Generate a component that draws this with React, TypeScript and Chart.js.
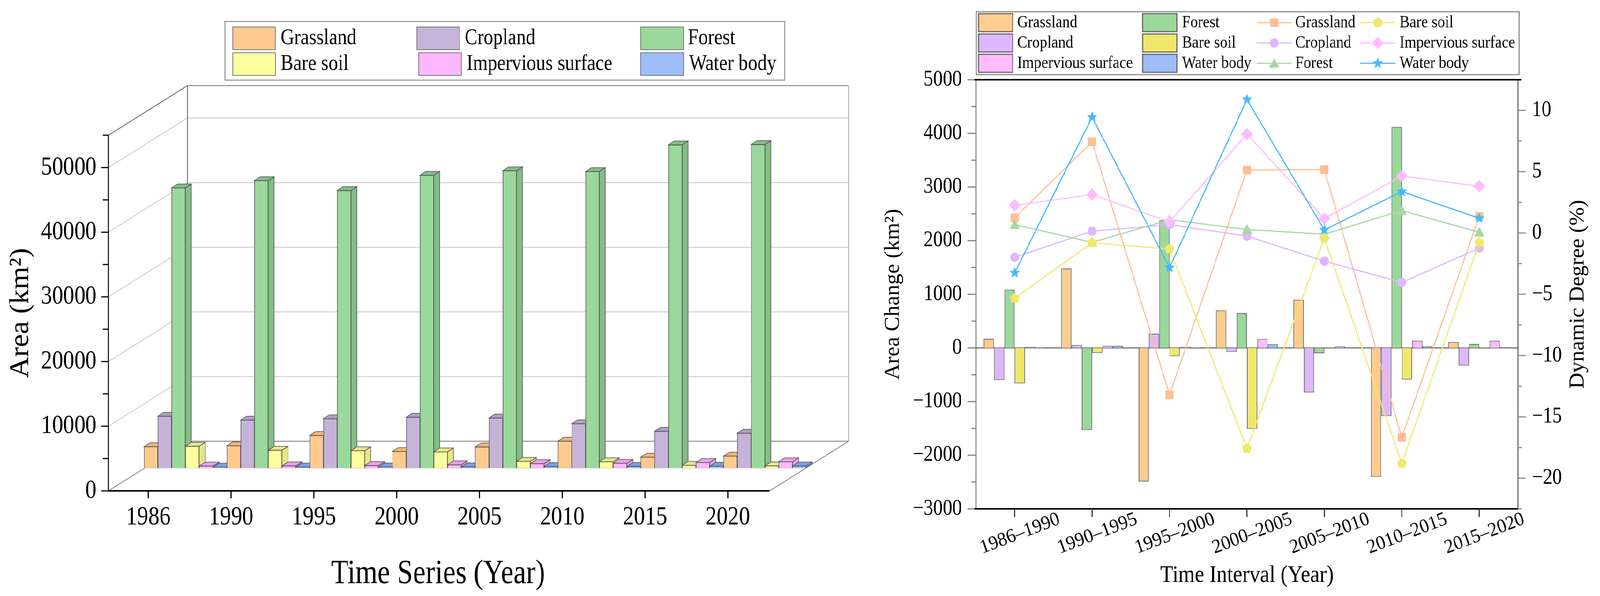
import React, { useEffect, useRef } from "react";
import { Chart, registerables } from "chart.js";

Chart.register(...registerables);

const FONT = "'Liberation Serif', 'Times New Roman', serif";

// ---------- left chart data ----------
const years = ["1986", "1990", "1995", "2000", "2005", "2010", "2015", "2020"];
const areaTicks = [0, 10000, 20000, 30000, 40000, 50000];
const areaGrassland = [3270, 3420, 5000, 2530, 3235, 4120, 1650, 1820];
const areaCropland = [7980, 7380, 7590, 7820, 7700, 6820, 5650, 5350];
const areaForest = [43294, 44412, 42880, 45235, 45940, 45820, 49940, 50000];
const areaBareSoil = [3340, 2720, 2650, 2470, 1000, 940, 400, 300];
const areaImpervious = [270, 300, 350, 470, 650, 700, 820, 940];
const areaWater = [100, 120, 130, 150, 200, 220, 260, 280];

// ---------- right chart data ----------
const intervals = ["1986–1990", "1990–1995", "1995–2000", "2000–2005", "2005–2010", "2010–2015", "2015–2020"];
const degreeTicks = [-20, -15, -10, -5, 0, 5, 10];
const changeGrassland = [170, 1480, -2490, 700, 900, -2400, 110];
const changeCropland = [-600, 55, 265, -75, -830, -1270, -330];
const changeForest = [1085, -1530, 2380, 650, -100, 4120, 75];
const changeBareSoil = [-660, -95, -155, -1510, -15, -590, -15];
const changeImpervious = [20, 40, 20, 165, 30, 135, 135];
const changeWater = [-10, 40, -15, 70, 5, 30, 15];

const degreeGrassland = [1.24, 7.44, -13.2, 5.14, 5.17, -16.67, 1.35];
const degreeCropland = [-1.98, 0.15, 0.68, -0.25, -2.3, -4.03, -1.24];
const degreeForest = [0.68, -0.77, 1.08, 0.28, -0.1, 1.83, 0.06];
const degreeBareSoil = [-5.33, -0.8, -1.3, -17.57, -0.43, -18.8, -0.8];
const degreeImpervious = [2.26, 3.13, 0.9, 8.06, 1.18, 4.65, 3.81];
const degreeWater = [-3.25, 9.45, -2.82, 10.88, 0.25, 3.38, 1.2];

// ---------- names and colours ----------
const leftNames = ["Grassland", "Cropland", "Forest", "Bare soil", "Impervious surface", "Water body"];
const leftFront = ["#FFCA8E", "#C6B3D9", "#9BD89B", "#FFFFA0", "#FFB8FF", "#9DBDF8"];
const leftDepth = ["#F0B47A", "#B09FC4", "#84BC88", "#E6E688", "#EE9EEE", "#7BA0E0"];
const rightBarColors = ["#FFCC8F", "#DDB8FF", "#9BD89B", "#F0E86C", "#FFBBFF", "#9DBDF8"];
const rightLineColors = ["#FFBE94", "#DDB8FF", "#A5D9A5", "#F0E86C", "#FFBBFF", "#45B9FF"];

const FULL_W = 4310;
const LEFT_W = 2340;
const RIGHT_W = 1970;
const H = 1525;

function compressText(canvas: HTMLCanvasElement, factor: number) {
  const ctx: any = canvas.getContext("2d");
  const orig = ctx.fillText.bind(ctx);
  ctx.fillText = (t: string, x: number, y: number, mw?: number) => {
    const m = ctx.getTransform();
    if (Math.abs(m.b) > 1e-6) {
      orig(t, x, y);
    } else {
      const w = ctx.measureText(t).width * factor;
      orig(t, x, y, mw ? Math.min(w, mw) : w);
    }
  };
}

function line(ctx: CanvasRenderingContext2D, x1: number, y1: number, x2: number, y2: number, color: string, width: number) {
  ctx.beginPath();
  ctx.moveTo(x1, y1);
  ctx.lineTo(x2, y2);
  ctx.strokeStyle = color;
  ctx.lineWidth = width;
  ctx.stroke();
}

function poly(ctx: CanvasRenderingContext2D, pts: number[][], fill: string, stroke: string, width: number) {
  ctx.beginPath();
  pts.forEach((p, i) => (i ? ctx.lineTo(p[0], p[1]) : ctx.moveTo(p[0], p[1])));
  ctx.closePath();
  ctx.fillStyle = fill;
  ctx.fill();
  if (width > 0) {
    ctx.strokeStyle = stroke;
    ctx.lineWidth = width;
    ctx.stroke();
  }
}

// ---------- pseudo 3D plugin for the left chart ----------
const AXIS_X = 292;
const AXIS_END = 2073;
const WALL = { dx: 213, dy: -127 };
const PLANE = { dx: 100, dy: -59 };
const DEPTH = { dx: 16, dy: -10 };

const threeD = {
  id: "threeD",
  beforeDatasetDraw() {
    return false;
  },
  beforeDatasetsDraw(chart: any) {
    const ctx: CanvasRenderingContext2D = chart.ctx;
    const y = chart.scales.y;
    const y0 = y.getPixelForValue(0);
    const yTop = y.getPixelForValue(55000);
    ctx.save();
    for (let v = 10000; v <= 50000; v += 10000) {
      const py = y.getPixelForValue(v);
      line(ctx, AXIS_X, py, AXIS_X + WALL.dx, py + WALL.dy, "#c9c9c9", 2);
      line(ctx, AXIS_X + WALL.dx, py + WALL.dy, AXIS_END + WALL.dx, py + WALL.dy, "#cfcfcf", 2.5);
    }
    line(ctx, AXIS_X + WALL.dx, y0 + WALL.dy, AXIS_END + WALL.dx, y0 + WALL.dy, "#8c8c8c", 2.5);
    line(ctx, AXIS_X + WALL.dx, yTop + WALL.dy, AXIS_END + WALL.dx, yTop + WALL.dy, "#8c8c8c", 2.5);
    line(ctx, AXIS_X + WALL.dx, yTop + WALL.dy, AXIS_X + WALL.dx, y0 + WALL.dy, "#777", 2.5);
    line(ctx, AXIS_END + WALL.dx, yTop + WALL.dy, AXIS_END + WALL.dx, y0 + WALL.dy, "#8c8c8c", 2.5);
    line(ctx, AXIS_X, yTop, AXIS_X + WALL.dx, yTop + WALL.dy, "#555", 2);
    line(ctx, AXIS_X, y0, AXIS_X + WALL.dx, y0 + WALL.dy, "#777", 2);
    line(ctx, AXIS_END, y0, AXIS_END + WALL.dx, y0 + WALL.dy, "#777", 2);
    line(ctx, AXIS_X + PLANE.dx - 4, y0 + PLANE.dy, AXIS_END + PLANE.dx, y0 + PLANE.dy, "#c4c4c4", 2.5);
    line(ctx, AXIS_X, yTop, AXIS_X, y0 + 1, "#000", 3.5);
    line(ctx, AXIS_X - 2, y0, AXIS_END, y0, "#000", 4);
    for (let v = 0; v <= 55000; v += 5000) {
      const py = y.getPixelForValue(v);
      line(ctx, AXIS_X - (v % 10000 === 0 ? 19 : 15), py, AXIS_X, py, "#000", 3);
    }
    chart.scales.x.ticks.forEach((_t: any, i: number) => {
      const px = chart.scales.x.getPixelForTick(i);
      line(ctx, px, y0, px, y0 + 19, "#000", 3);
    });
    ctx.restore();
  },
  afterDatasetsDraw(chart: any) {
    const ctx: CanvasRenderingContext2D = chart.ctx;
    const n = chart.data.labels.length;
    const m = chart.data.datasets.length;
    ctx.save();
    ctx.translate(PLANE.dx, PLANE.dy);
    for (let c = 0; c < n; c++) {
      for (let d = 0; d < m; d++) {
        const bar: any = chart.getDatasetMeta(d).data[c];
        const l = bar.x - bar.width / 2;
        const r = bar.x + bar.width / 2;
        const stroke = "#4e4e4e";
        poly(ctx, [[r, bar.y], [r + DEPTH.dx, bar.y + DEPTH.dy], [r + DEPTH.dx, bar.base + DEPTH.dy], [r, bar.base]], leftDepth[d], stroke, 1.5);
        poly(ctx, [[l, bar.y], [l + DEPTH.dx, bar.y + DEPTH.dy], [r + DEPTH.dx, bar.y + DEPTH.dy], [r, bar.y]], leftDepth[d], stroke, 1.5);
        bar.draw(ctx);
      }
    }
    ctx.restore();
    // legend
    ctx.save();
    poly(ctx, [[606, 55], [2114, 55], [2114, 205], [606, 205]], "#fff", "#777", 2);
    const cols = [
      [627, 756, 0],
      [1123, 1252, 1],
      [1726, 1853, 2],
      [627, 756, 3],
      [1128, 1257, 4],
      [1726, 1856, 5],
    ];
    ctx.font = `58px ${FONT}`;
    ctx.textBaseline = "middle";
    ctx.textAlign = "left";
    cols.forEach((c, i) => {
      const top = i < 3 ? 69 : 135;
      poly(ctx, [[c[0], top], [c[0] + 115, top], [c[0] + 115, top + 58], [c[0], top + 58]], leftFront[c[2]], "#777", 2);
      ctx.fillStyle = "#000";
      ctx.fillText(leftNames[c[2]], c[1], top + 29);
    });
    ctx.restore();
  },
};

// ---------- markers for the right chart ----------
function marker(shape: string, color: string) {
  const S = 36;
  const c = document.createElement("canvas");
  c.width = S;
  c.height = S;
  const g = c.getContext("2d") as CanvasRenderingContext2D;
  const m = S / 2;
  const ngon = (count: number, r: number, inner?: number) => {
    const pts: number[][] = [];
    const total = inner ? count * 2 : count;
    for (let i = 0; i < total; i++) {
      const a = -Math.PI / 2 + (i * 2 * Math.PI) / total;
      const rr = inner && i % 2 ? inner : r;
      pts.push([m + rr * Math.cos(a), m + rr * Math.sin(a)]);
    }
    return pts;
  };
  if (shape === "square") poly(g, [[m - 11, m - 11], [m + 11, m - 11], [m + 11, m + 11], [m - 11, m + 11]], color, color, 0);
  if (shape === "circle") poly(g, ngon(48, 12), color, color, 0);
  if (shape === "triangle") poly(g, [[m, m - 14], [m + 14, m + 11], [m - 14, m + 11]], color, color, 0);
  if (shape === "pentagon") poly(g, ngon(5, 14), color, color, 0);
  if (shape === "diamond") poly(g, ngon(4, 16), color, color, 0);
  if (shape === "star") poly(g, ngon(5, 15, 6.5), color, color, 0);
  return c;
}

const markerShapes = ["square", "circle", "triangle", "pentagon", "diamond", "star"];
let rightMarkers: HTMLCanvasElement[] = [];

const rightDecor = {
  id: "rightDecor",
  beforeDatasetsDraw(chart: any) {
    const ctx: CanvasRenderingContext2D = chart.ctx;
    const { left, right, top, bottom } = chart.chartArea;
    const y = chart.scales.y;
    const y1 = chart.scales.y1;
    const x = chart.scales.x;
    ctx.save();
    line(ctx, left, top, left, bottom, "#808080", 3.5);
    line(ctx, right, top, right, bottom, "#8c8c8c", 4);
    for (let v = -3000; v <= 5000; v += 500) {
      const py = y.getPixelForValue(v);
      line(ctx, left - (v % 1000 === 0 ? 23 : 12), py, left, py, "#808080", 3);
    }
    for (let v = -22.5; v <= 12.5; v += 2.5) {
      const py = y1.getPixelForValue(v);
      const major = Math.abs(v % 5) < 1e-6;
      line(ctx, right, py, right + (major ? 21 : 11), py, "#8c8c8c", 3);
    }
    line(ctx, left - 4, top, right + 8, top, "#000", 4);
    line(ctx, left - 4, bottom, right, bottom, "#000", 4);
    x.ticks.forEach((_t: any, i: number) => {
      const px = x.getPixelForTick(i);
      line(ctx, px, bottom, px, bottom + 21, "#333", 3);
    });
    line(ctx, left, y.getPixelForValue(0), right, y.getPixelForValue(0), "#333", 2);
    ctx.restore();
  },
  afterDraw(chart: any) {
    const ctx: CanvasRenderingContext2D = chart.ctx;
    const off = 2340;
    ctx.save();
    // right axis title, reading upwards
    ctx.save();
    ctx.translate(4251 - off, (chart.chartArea.top + chart.chartArea.bottom) / 2);
    ctx.rotate(-Math.PI / 2);
    ctx.font = `56.5px ${FONT}`;
    ctx.textAlign = "center";
    ctx.textBaseline = "middle";
    ctx.fillStyle = "#000";
    ctx.fillText("Dynamic Degree (%)", 0, 0);
    ctx.restore();
    // legend
    poly(ctx, [[2630 - off, 30], [4092 - off, 30], [4092 - off, 191], [2630 - off, 191]], "#fff", "#8c8c8c", 3);
    const rows = [58, 110, 162];
    ctx.font = `44px ${FONT}`;
    ctx.textBaseline = "middle";
    ctx.textAlign = "left";
    const barOrder = [
      [2636, 2740, 0, 0],
      [2636, 2740, 1, 1],
      [2636, 2740, 4, 2],
      [3078, 3184, 2, 0],
      [3078, 3184, 3, 1],
      [3078, 3184, 5, 2],
    ];
    barOrder.forEach(([sx, tx, s, r]) => {
      const cy = rows[r];
      poly(ctx, [[sx - off, cy - 23], [sx + 92 - off, cy - 23], [sx + 92 - off, cy + 23], [sx - off, cy + 23]], rightBarColors[s], "#666", 3);
      ctx.fillStyle = "#000";
      ctx.fillText(leftNames[s], tx - off, cy);
    });
    const lineOrder = [
      [3385, 3489, 0, 0],
      [3385, 3489, 1, 1],
      [3385, 3489, 2, 2],
      [3664, 3770, 3, 0],
      [3664, 3770, 4, 1],
      [3664, 3770, 5, 2],
    ];
    lineOrder.forEach(([sx, tx, s, r]) => {
      const cy = rows[r];
      line(ctx, sx - off, cy, sx + 95 - off, cy, rightLineColors[s], 3);
      ctx.drawImage(rightMarkers[s], sx + 47.5 - off - 18, cy - 18);
      ctx.fillStyle = "#000";
      ctx.fillText(leftNames[s], tx - off, cy);
    });
    ctx.restore();
  },
};

export default function App() {
  const leftRef = useRef<HTMLCanvasElement>(null);
  const rightRef = useRef<HTMLCanvasElement>(null);
  // The browser window can be narrower than the reference; fit the full width into it.
  const fit = Math.min(1, window.innerWidth / FULL_W);

  useEffect(() => {
    compressText(leftRef.current!, 0.88);
    compressText(rightRef.current!, 0.92);

    const areaSeries = [areaGrassland, areaCropland, areaForest, areaBareSoil, areaImpervious, areaWater];
    const left = new Chart(leftRef.current!, {
      type: "bar",
      data: {
        labels: years,
        datasets: areaSeries.map((data, i) => ({
          label: leftNames[i],
          data,
          backgroundColor: leftFront[i],
          borderColor: "#4e4e4e",
          borderWidth: 1.5,
          categoryPercentage: 1,
          barPercentage: 1,
        })),
      },
      options: {
        animation: false,
        responsive: false,
        devicePixelRatio: 1,
        layout: { padding: { top: 346, left: 0, right: LEFT_W - 2072, bottom: 0 } },
        plugins: { legend: { display: false }, tooltip: { enabled: false } },
        scales: {
          x: {
            grid: { display: false, drawTicks: false },
            border: { display: false },
            ticks: { color: "#000", padding: 27, maxRotation: 0, font: { family: FONT, size: 68 } },
            title: {
              display: true,
              text: "Time Series (Year)",
              color: "#000",
              font: { family: FONT, size: 87 },
              padding: { top: 0, bottom: 4 },
            },
            afterFit: (s: any) => {
              s.height = H - 1256;
            },
          },
          y: {
            min: 0,
            max: 55000,
            grid: { display: false, drawTicks: false },
            border: { display: false },
            ticks: {
              padding: 28,
              color: "#000",
              font: { family: FONT, size: 68 },
              callback: (v: any) => String(v),
            },
            afterBuildTicks: (s: any) => {
              s.ticks = areaTicks.map((value) => ({ value }));
            },
            title: {
              display: true,
              text: "Area (km²)",
              color: "#000",
              font: { family: FONT, size: 75 },
              padding: { top: 11, bottom: 0 },
            },
            afterFit: (s: any) => {
              s.width = 288;
            },
          },
        },
      } as any,
      plugins: [threeD as any],
    });

    const changeSeries = [changeGrassland, changeCropland, changeForest, changeBareSoil, changeImpervious, changeWater];
    const degreeSeries = [degreeGrassland, degreeCropland, degreeForest, degreeBareSoil, degreeImpervious, degreeWater];
    rightMarkers = markerShapes.map((s, i) => marker(s, rightLineColors[i]));

    const right = new Chart(rightRef.current!, {
      type: "bar",
      data: {
        labels: intervals,
        datasets: [
          ...changeSeries.map((data, i) => ({
            type: "bar" as const,
            label: leftNames[i],
            data,
            yAxisID: "y",
            backgroundColor: rightBarColors[i],
            borderColor: "#6a6a6a",
            borderWidth: 2,
            categoryPercentage: 0.8,
            barPercentage: 1,
            order: 20,
          })),
          ...degreeSeries.map((data, i) => ({
            type: "line" as const,
            label: leftNames[i],
            data,
            yAxisID: "y1",
            borderColor: rightLineColors[i],
            backgroundColor: rightLineColors[i],
            borderWidth: 3,
            pointStyle: rightMarkers[i],
            pointRadius: 16,
            tension: 0,
            order: 10 - i,
          })),
        ],
      },
      options: {
        animation: false,
        responsive: false,
        devicePixelRatio: 1,
        layout: { padding: { top: 204, left: 0, right: 0, bottom: 0 } },
        plugins: { legend: { display: false }, tooltip: { enabled: false } },
        scales: {
          x: {
            grid: { display: false, drawTicks: false },
            border: { display: false },
            ticks: {
              color: "#000",
              padding: -3,
              labelOffset: 120,
              minRotation: 20,
              maxRotation: 20,
              font: { family: FONT, size: 50 },
            },
            title: {
              display: true,
              text: "Time Interval (Year)",
              color: "#000",
              font: { family: FONT, size: 62 },
              padding: { top: 0, bottom: 15 },
            },
            afterFit: (s: any) => {
              s.height = H - 1302;
            },
          },
          y: {
            position: "left",
            min: -3000,
            max: 5000,
            grid: { display: false, drawTicks: false },
            border: { display: false },
            ticks: {
              stepSize: 1000,
              includeBounds: false,
              padding: 38,
              color: "#000",
              font: { family: FONT, size: 56 },
              callback: (v: any) => String(v).replace("-", "−"),
            },
            title: {
              display: true,
              text: "Area Change (km²)",
              color: "#000",
              font: { family: FONT, size: 56.5 },
              padding: { top: 32, bottom: 0 },
            },
            afterFit: (s: any) => {
              s.width = 2629 - 2340;
            },
          },
          y1: {
            position: "right",
            min: -22.5,
            max: 12.5,
            grid: { display: false, drawTicks: false },
            border: { display: false },
            ticks: {
              padding: 38,
              color: "#000",
              font: { family: FONT, size: 56 },
              callback: (v: any) => String(v).replace("-", "−"),
            },
            afterBuildTicks: (s: any) => {
              s.ticks = degreeTicks.map((value) => ({ value }));
            },
            afterFit: (s: any) => {
              s.width = RIGHT_W - (4089 - 2340);
            },
          },
        },
      } as any,
      plugins: [rightDecor as any],
    });

    return () => {
      left.destroy();
      right.destroy();
    };
  }, []);

  return (
    <div
      style={{
        position: "fixed",
        left: 0,
        top: 0,
        width: FULL_W,
        height: H,
        background: "#fff",
        overflow: "hidden",
        transform: `scaleX(${fit})`,
        transformOrigin: "0 0",
      }}
    >
      <canvas ref={leftRef} width={LEFT_W} height={H} style={{ position: "absolute", left: 0, top: 0, width: LEFT_W, height: H }} />
      <canvas ref={rightRef} width={RIGHT_W} height={H} style={{ position: "absolute", left: LEFT_W, top: 0, width: RIGHT_W, height: H }} />
    </div>
  );
}
